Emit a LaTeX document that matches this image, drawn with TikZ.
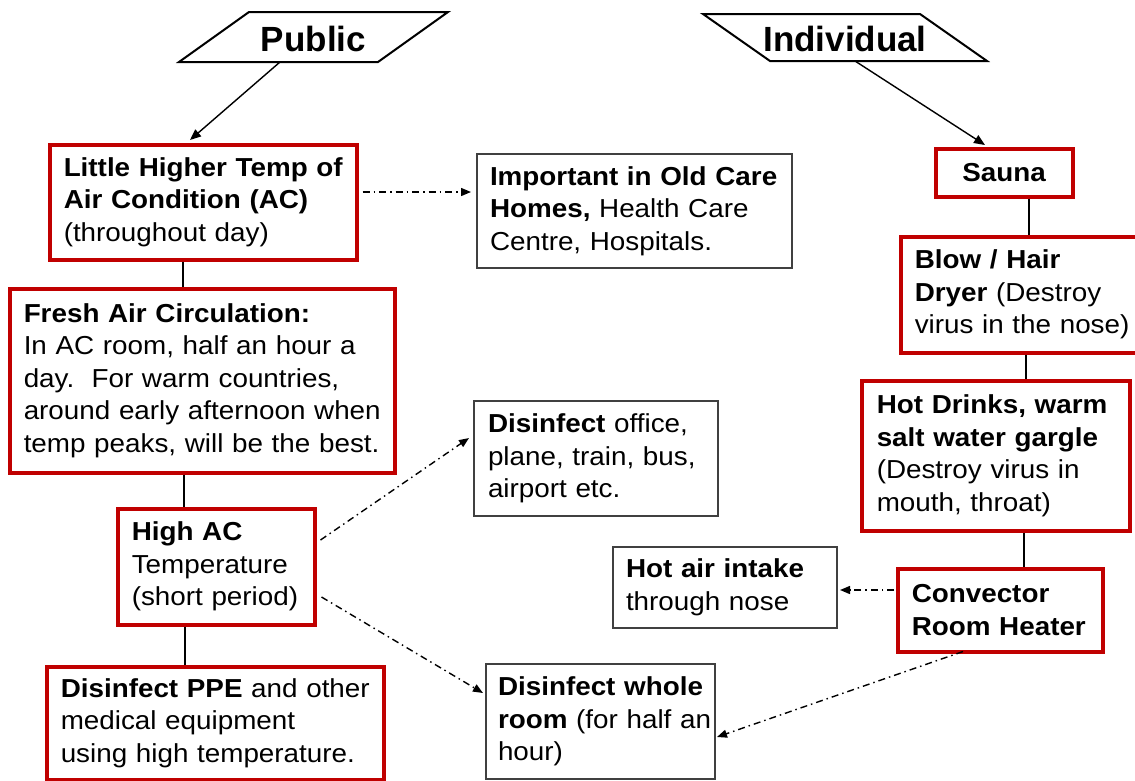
\documentclass[tikz,border=0pt]{standalone}
\usepackage{fontspec}
\setmainfont[FakeStretch=1.07]{Liberation Sans}
\newfontfamily\titlefont{Liberation Sans}
\usetikzlibrary{arrows.meta,calc}
\definecolor{boxred}{RGB}{192,0,0}
\definecolor{boxgray}{RGB}{64,64,64}
\newcommand\ml[1]{\mbox{#1}}
\tikzset{
  base/.style={rectangle, align=left, anchor=north west, inner ysep=0pt,
    font=\fontsize{26}{32.5}\selectfont, text=black},
  redbox/.style={base, draw=boxred, line width=3.5pt},
  graybox/.style={base, draw=boxgray, line width=2pt},
  titlebox/.style={line width=2pt, draw=black, line join=miter},
  titletext/.style={font=\titlefont\bfseries\fontsize{35}{40}\selectfont},
  link/.style={line width=1.5pt},
  arr/.style={line width=1.4pt, -{Triangle[length=11pt,width=9pt]}},
  ddarrow/.style={line width=1.4pt, dash pattern=on 7pt off 4pt on 1.5pt off 4pt,
    -{Triangle[length=10pt,width=8pt]}},
}
\begin{document}
\begin{tikzpicture}[x=1pt,y=-1pt]
\fill[white] (0,0) rectangle (1135,780);
\useasboundingbox (0,0) rectangle (1135,780);

% title parallelograms
\draw[titlebox] (249,12) -- (448,12) -- (378,62) -- (179,62) -- cycle;
\node[titletext] (pub) at (313.5,38.5) {Public};
\coordinate (pubS) at (280,62);
\draw[titlebox] (703,14) -- (920,14) -- (987,61) -- (770,61) -- cycle;
\node[titletext] (ind) at (845,39) {Individual};
\coordinate (indS) at (855,61);

% left column
\node[redbox, minimum width=307pt, minimum height=115pt, inner xsep=14pt, text width=279pt]
  (little) at (48,143)
  {\ml{\textbf{Little Higher Temp of}}\\ \ml{\textbf{Air Condition (AC)}}\\ \ml{(throughout day)}};
\node[redbox, minimum width=385pt, minimum height=184pt, inner xsep=14pt, text width=357pt]
  (fresh) at (8,287)
  {\ml{\textbf{Fresh Air Circulation:}}\\ \ml{In AC room, half an hour a}\\ \ml{day.\ \ For warm countries,}\\ \ml{around early afternoon when}\\ \ml{temp peaks, will be the best.}};
\node[redbox, minimum width=197pt, minimum height=116pt, inner xsep=14pt, text width=169pt]
  (highac) at (116,507)
  {\ml{\textbf{High AC}}\\ \ml{Temperature}\\ \ml{(short period)}};
\node[redbox, minimum width=337pt, minimum height=113pt, inner xsep=14pt, text width=309pt]
  (ppe) at (45,665)
  {\ml{\textbf{Disinfect PPE} and other}\\ \ml{medical equipment}\\ \ml{using high temperature.}};

% middle column
\node[graybox, minimum width=315pt, minimum height=114pt, inner xsep=13pt, text width=289pt]
  (imp) at (476,153)
  {\ml{\textbf{Important in Old Care}}\\ \ml{\textbf{Homes,} Health Care}\\ \ml{Centre, Hospitals.}};
\node[graybox, minimum width=244pt, minimum height=115pt, inner xsep=14pt, text width=216pt]
  (office) at (473,400)
  {\ml{\textbf{Disinfect} office,}\\ \ml{plane, train, bus,}\\ \ml{airport etc.}};
\node[graybox, minimum width=229pt, minimum height=115pt, inner xsep=12pt, text width=205pt]
  (room) at (485,663)
  {\ml{\textbf{Disinfect whole}}\\ \ml{\textbf{room} (for half an}\\ \ml{hour)}};
\node[graybox, minimum width=224pt, minimum height=81pt, inner xsep=13pt, text width=198pt]
  (hotair) at (612,546)
  {\ml{\textbf{Hot air intake}}\\ \ml{through nose}};

% right column
\node[redbox, minimum width=137pt, minimum height=48pt, inner xsep=4pt, text width=129pt, align=center]
  (sauna) at (934,147) {\textbf{Sauna}};
\node[redbox, minimum width=241pt, minimum height=116pt, inner xsep=14pt, text width=213pt]
  (blow) at (899,235)
  {\ml{\textbf{Blow / Hair}}\\ \ml{\textbf{Dryer} (Destroy}\\ \ml{virus in the nose)}};
\node[redbox, minimum width=268pt, minimum height=150pt, inner xsep=15pt, text width=238pt]
  (hot) at (860,379)
  {\ml{\textbf{Hot Drinks, warm}}\\ \ml{\textbf{salt water gargle}}\\ \ml{(Destroy virus in}\\ \ml{mouth, throat)}};
\node[redbox, minimum width=205pt, minimum height=83pt, inner xsep=14pt, text width=177pt]
  (conv) at (896,567)
  {\ml{\textbf{Convector}}\\ \ml{\textbf{Room Heater}}};

% solid arrows from titles
\draw[arr] (pubS) -- ($(little.north west)+(142,-3)$);
\draw[arr] (indS) -- ($(sauna.north west)+(51,-2)$);

% solid links
\draw[link] ($(little.south west)+(135,0)$) -- ($(fresh.north west)+(175,0)$);
\draw[link] ($(fresh.south west)+(176,0)$) -- ($(highac.north west)+(68,0)$);
\draw[link] ($(highac.south west)+(69,0)$) -- ($(ppe.north west)+(140,0)$);
\draw[link] ($(sauna.south west)+(95,0)$) -- ($(blow.north west)+(130,0)$);
\draw[link] ($(blow.south west)+(127,0)$) -- ($(hot.north west)+(166,0)$);
\draw[link] ($(hot.south west)+(164,0)$) -- ($(conv.north west)+(128,0)$);

% dash-dot arrows
\draw[ddarrow] ($(little.north east)+(4,49)$) -- ($(imp.north west)+(-5,39)$);
\draw[ddarrow] ($(highac.north east)+(4,33)$) -- ($(office.north west)+(-4,38)$);
\draw[ddarrow] ($(highac.north east)+(5,90)$) -- ($(room.north west)+(-2,30)$);
\draw[ddarrow] ($(conv.north west)+(-2,23)$) -- ($(hotair.north east)+(2,44)$);
\draw[ddarrow] ($(conv.south west)+(67,-2)$) -- ($(room.north east)+(1,74)$);
\end{tikzpicture}
\end{document}
